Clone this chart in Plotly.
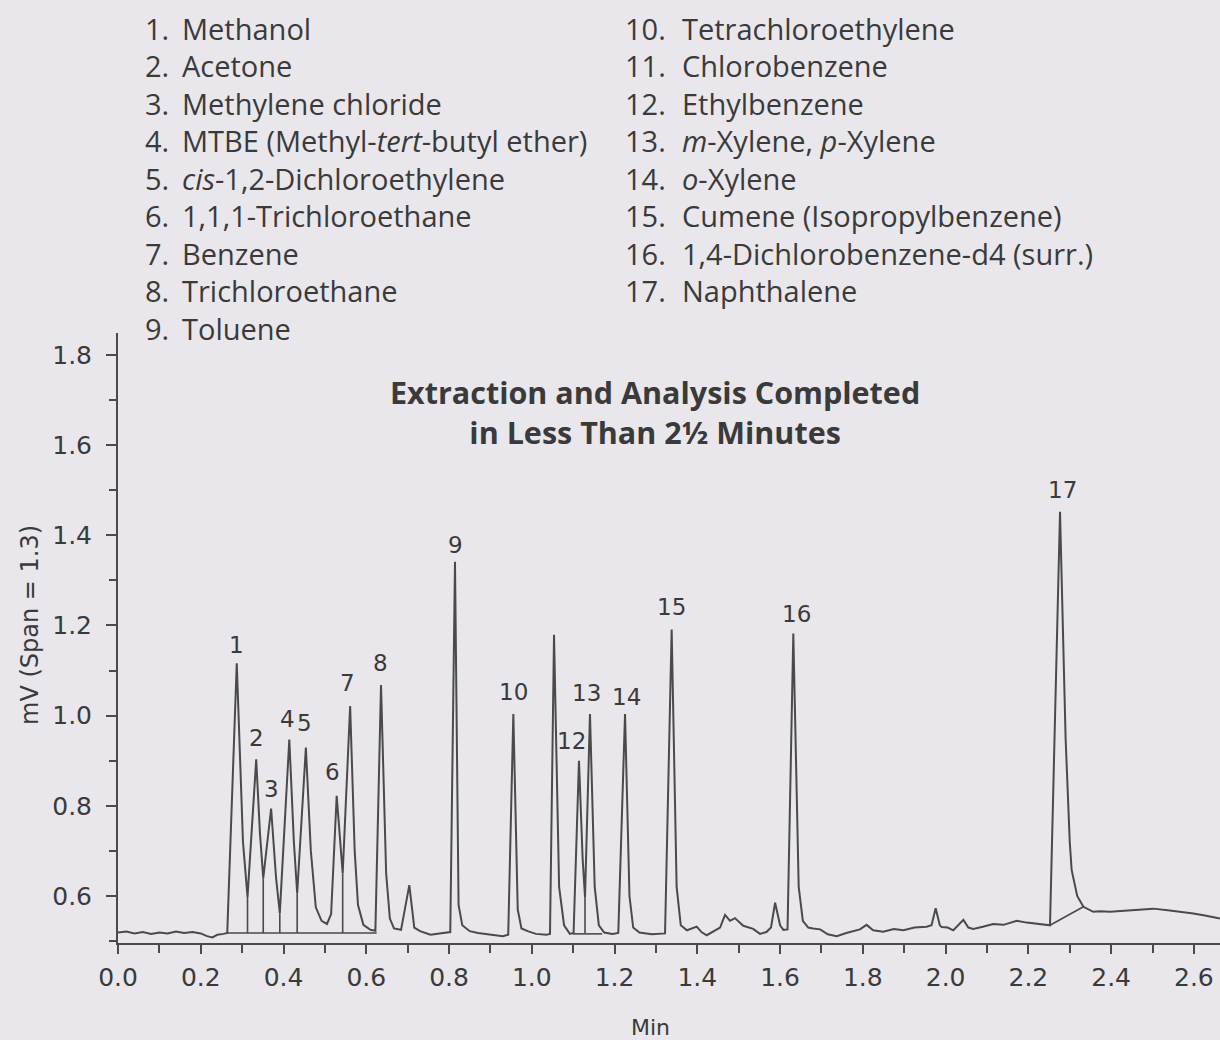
import plotly.graph_objects as go

# ---------------- data ----------------
# digitised chromatogram trace (time in min, signal in mV)
time_min = [
    0.000, 0.020, 0.040, 0.060, 0.080, 0.100, 0.120, 0.140, 0.160, 0.180, 0.200, 0.215, 0.228, 0.240, 0.255,
    0.264, 0.287, 0.302, 0.313,
    0.334, 0.343, 0.351,
    0.370, 0.382, 0.391,
    0.414, 0.425, 0.433,
    0.454, 0.466, 0.478, 0.492, 0.505,
    0.515, 0.5285, 0.537, 0.543,
    0.561, 0.572, 0.580, 0.593, 0.610, 0.622,
    0.6356, 0.648, 0.657, 0.667, 0.684,
    0.704, 0.716, 0.730, 0.755, 0.785, 0.803,
    0.8144, 0.823, 0.832, 0.850, 0.870, 0.900, 0.930, 0.943,
    0.9554, 0.966, 0.975, 0.990, 1.010, 1.035, 1.044,
    1.0537, 1.066, 1.078, 1.092, 1.101,
    1.114, 1.123, 1.1286,
    1.1406, 1.152, 1.162, 1.175, 1.195, 1.209,
    1.2253, 1.236, 1.245, 1.260, 1.290, 1.322,
    1.338, 1.350, 1.360, 1.375, 1.3985, 1.410, 1.4227, 1.440, 1.455, 1.467, 1.479, 1.491, 1.511, 1.535, 1.5515, 1.567, 1.578,
    1.588, 1.600, 1.608, 1.618,
    1.632, 1.645, 1.655, 1.668, 1.680, 1.697, 1.715, 1.737, 1.760, 1.780, 1.793, 1.809, 1.825, 1.849, 1.875, 1.898, 1.925, 1.954, 1.966,
    1.976, 1.986, 1.9905, 2.005, 2.0187, 2.043, 2.055, 2.067, 2.090, 2.115, 2.140, 2.155, 2.172, 2.196, 2.220, 2.248,
    2.2523, 2.2765, 2.290, 2.300, 2.3046, 2.318, 2.333, 2.357, 2.373, 2.397, 2.4376, 2.470, 2.502, 2.542, 2.570, 2.5987, 2.630, 2.663,
]
signal_mv = [
    0.519, 0.521, 0.517, 0.520, 0.516, 0.519, 0.517, 0.521, 0.518, 0.520, 0.517, 0.511, 0.508, 0.514, 0.516,
    0.518, 1.116, 0.720, 0.598,
    0.903, 0.740, 0.639,
    0.794, 0.640, 0.562,
    0.947, 0.720, 0.606,
    0.929, 0.700, 0.575, 0.545, 0.538,
    0.560, 0.822, 0.720, 0.650,
    1.021, 0.700, 0.580, 0.536, 0.525, 0.523,
    1.068, 0.650, 0.550, 0.528, 0.525,
    0.624, 0.530, 0.522, 0.514, 0.518, 0.520,
    1.341, 0.580, 0.535, 0.522, 0.518, 0.514, 0.511, 0.514,
    1.0035, 0.570, 0.528, 0.522, 0.516, 0.514, 0.516,
    1.179, 0.620, 0.535, 0.516, 0.518,
    0.900, 0.680, 0.598,
    1.0035, 0.620, 0.535, 0.519, 0.516, 0.518,
    1.0035, 0.600, 0.530, 0.519, 0.515, 0.517,
    1.191, 0.620, 0.535, 0.524, 0.532, 0.520, 0.513, 0.522, 0.530, 0.558, 0.545, 0.551, 0.534, 0.527, 0.516, 0.520, 0.530,
    0.585, 0.535, 0.525, 0.526,
    1.182, 0.620, 0.545, 0.530, 0.528, 0.526, 0.515, 0.511, 0.518, 0.522, 0.526, 0.536, 0.524, 0.521, 0.527, 0.524, 0.530, 0.532, 0.535,
    0.573, 0.535, 0.531, 0.530, 0.524, 0.547, 0.530, 0.527, 0.532, 0.538, 0.536, 0.541, 0.545, 0.541, 0.539, 0.535,
    0.535, 1.452, 0.950, 0.720, 0.658, 0.600, 0.576, 0.565, 0.566, 0.565, 0.568, 0.571, 0.572, 0.568, 0.565, 0.561, 0.556, 0.550,
]

# labelled peaks
peak_ids = ["1", "2", "3", "4", "5", "6", "7", "8", "9", "10", "12", "13", "14", "15", "16", "17"]
peak_time = [0.287, 0.334, 0.370, 0.414, 0.454, 0.5285, 0.561, 0.6356, 0.8144, 0.9554, 1.114, 1.1406, 1.2253, 1.338, 1.632, 2.2765]
peak_height = [1.116, 0.903, 0.794, 0.947, 0.929, 0.822, 1.021, 1.068, 1.341, 1.0035, 0.900, 1.0035, 1.0035, 1.191, 1.182, 1.452]

# perpendicular drop lines (valley time, valley signal) and integration baselines
drop_time = [0.313, 0.351, 0.391, 0.433, 0.543, 1.1286]
drop_top = [0.598, 0.639, 0.562, 0.606, 0.650, 0.598]
drop_base = 0.518
baseline_start_t = [0.264, 1.099, 2.2523]
baseline_start_v = [0.518, 0.516, 0.535]
baseline_end_t = [0.625, 1.170, 2.333]
baseline_end_v = [0.518, 0.516, 0.576]

compound_nums_1 = ["1.", "2.", "3.", "4.", "5.", "6.", "7.", "8.", "9."]
compound_names_1 = [
    "Methanol", "Acetone", "Methylene chloride", "MTBE (Methyl-<i>tert</i>-butyl ether)",
    "<i>cis</i>-1,2-Dichloroethylene", "1,1,1-Trichloroethane", "Benzene", "Trichloroethane", "Toluene",
]
compound_nums_2 = ["10.", "11.", "12.", "13.", "14.", "15.", "16.", "17."]
compound_names_2 = [
    "Tetrachloroethylene", "Chlorobenzene", "Ethylbenzene", "<i>m</i>-Xylene, <i>p</i>-Xylene",
    "<i>o</i>-Xylene", "Cumene (Isopropylbenzene)", "1,4-Dichlorobenzene-d4 (surr.)", "Naphthalene",
]

x_ticks = [0.0, 0.2, 0.4, 0.6, 0.8, 1.0, 1.2, 1.4, 1.6, 1.8, 2.0, 2.2, 2.4, 2.6]
y_ticks = [0.6, 0.8, 1.0, 1.2, 1.4, 1.6, 1.8]

title_lines = ["Extraction and Analysis Completed", "in Less Than 2\u00bd Minutes"]
y_title = "mV (Span = 1.3)"
x_title = "Min"

# ---------------- styling / layout ----------------
W, H = 1220, 1040
L, R, T, B = 118, 0, 333, 97
BG = "#e9e7eb"
INK = "#3a3a3a"
LINE = "#4a4a4a"
TICK_FONT = "DejaVu Sans"
LIST_FONT = "Open Sans"

pw, ph = W - L - R, H - T - B


def px_x(px):
    return (px - L) / pw


def px_y(py):
    return (H - B - py) / ph


# label offsets (px) for peak numbers relative to their apex
label_dx = [0, 0, 0, -2, -1, -4, -3, -1, 0, 0, -7, -3, 1, 0, 3, 2]
label_dy = [18, 21, 20, 21, 25, 24, 23, 22, 17, 22, 20, 21, 17, 22, 20, 22]

fig = go.Figure()

fig.add_trace(go.Scatter(
    x=time_min, y=signal_mv, mode="lines",
    line=dict(color=LINE, width=2), showlegend=False, hoverinfo="skip",
))

# drop lines + integration baselines
dx, dy = [], []
for t, v in zip(drop_time, drop_top):
    dx += [t, t, None]
    dy += [v, drop_base, None]
for t0, v0, t1, v1 in zip(baseline_start_t, baseline_start_v, baseline_end_t, baseline_end_v):
    dx += [t0, t1, None]
    dy += [v0, v1, None]
fig.add_trace(go.Scatter(
    x=dx, y=dy, mode="lines", line=dict(color=LINE, width=1.6),
    showlegend=False, hoverinfo="skip", connectgaps=False,
))

annotations = []
for pid, t, h, ox, oy in zip(peak_ids, peak_time, peak_height, label_dx, label_dy):
    annotations.append(dict(
        x=t, y=h, xref="x", yref="y", text=pid, showarrow=False,
        xanchor="center", yanchor="middle", xshift=ox, yshift=oy,
        font=dict(family=TICK_FONT, size=23, color=INK),
    ))

row0, row_h = 28, 37.5
for i, (n, name) in enumerate(zip(compound_nums_1, compound_names_1)):
    yy = px_y(row0 + i * row_h)
    annotations.append(dict(x=px_x(143), y=yy, xref="paper", yref="paper", text=n, showarrow=False,
                            xanchor="left", yanchor="middle", font=dict(family=LIST_FONT, size=29, color=INK)))
    annotations.append(dict(x=px_x(180), y=yy, xref="paper", yref="paper", text=name, showarrow=False,
                            xanchor="left", yanchor="middle", font=dict(family=LIST_FONT, size=29, color=INK)))
for i, (n, name) in enumerate(zip(compound_nums_2, compound_names_2)):
    yy = px_y(row0 + i * row_h)
    annotations.append(dict(x=px_x(623), y=yy, xref="paper", yref="paper", text=n, showarrow=False,
                            xanchor="left", yanchor="middle", font=dict(family=LIST_FONT, size=29, color=INK)))
    annotations.append(dict(x=px_x(680), y=yy, xref="paper", yref="paper", text=name, showarrow=False,
                            xanchor="left", yanchor="middle", font=dict(family=LIST_FONT, size=29, color=INK)))

annotations.append(dict(x=px_x(655), y=px_y(412), xref="paper", yref="paper",
                        text="<br>".join("<b>%s</b>" % s for s in title_lines),
                        showarrow=False, xanchor="center", yanchor="middle", align="center",
                        font=dict(family=LIST_FONT, size=30.5, color=INK)))

annotations.append(dict(x=px_x(30), y=px_y(625), xref="paper", yref="paper", text=y_title, textangle=-90,
                        showarrow=False, xanchor="center", yanchor="middle",
                        font=dict(family=TICK_FONT, size=24, color=INK)))
annotations.append(dict(x=px_x(650), y=px_y(1027), xref="paper", yref="paper", text=x_title,
                        showarrow=False, xanchor="center", yanchor="middle",
                        font=dict(family=TICK_FONT, size=22, color=INK)))

x_lo = 0.0
x_hi = x_lo + pw / 413.8
y_lo = 0.6 - (943 - 896) / 451
y_hi = y_lo + ph / 451

fig.update_layout(
    width=W, height=H,
    margin=dict(l=L, r=R, t=T, b=B, pad=0),
    paper_bgcolor=BG, plot_bgcolor=BG,
    showlegend=False,
    annotations=annotations,
    xaxis=dict(
        range=[x_lo, x_hi], showgrid=False, zeroline=False,
        showline=True, linecolor=LINE, linewidth=2,
        tickmode="array", tickvals=x_ticks, ticktext=["%.1f" % v for v in x_ticks],
        ticks="outside", ticklen=9, tickwidth=2, tickcolor=LINE,
        minor=dict(dtick=0.1, tick0=0, ticks="outside", ticklen=8, tickwidth=2, tickcolor=LINE),
        tickfont=dict(family=TICK_FONT, size=25, color=INK),
        ticklabelstandoff=2,
    ),
    yaxis=dict(
        range=[y_lo, y_hi], showgrid=False, zeroline=False,
        showline=True, linecolor=LINE, linewidth=2,
        tickmode="array", tickvals=y_ticks, ticktext=["%.1f" % v for v in y_ticks],
        ticks="outside", ticklen=10, tickwidth=2, tickcolor=LINE,
        minor=dict(dtick=0.1, tick0=0.5, ticks="outside", ticklen=7, tickwidth=2, tickcolor=LINE),
        tickfont=dict(family=TICK_FONT, size=25, color=INK),
        ticklabelstandoff=9,
    ),
)

fig.write_html(
    "out.html",
    config={"displayModeBar": False},
    post_script="document.body.style.margin='0';document.body.style.background='%s';" % BG,
)
